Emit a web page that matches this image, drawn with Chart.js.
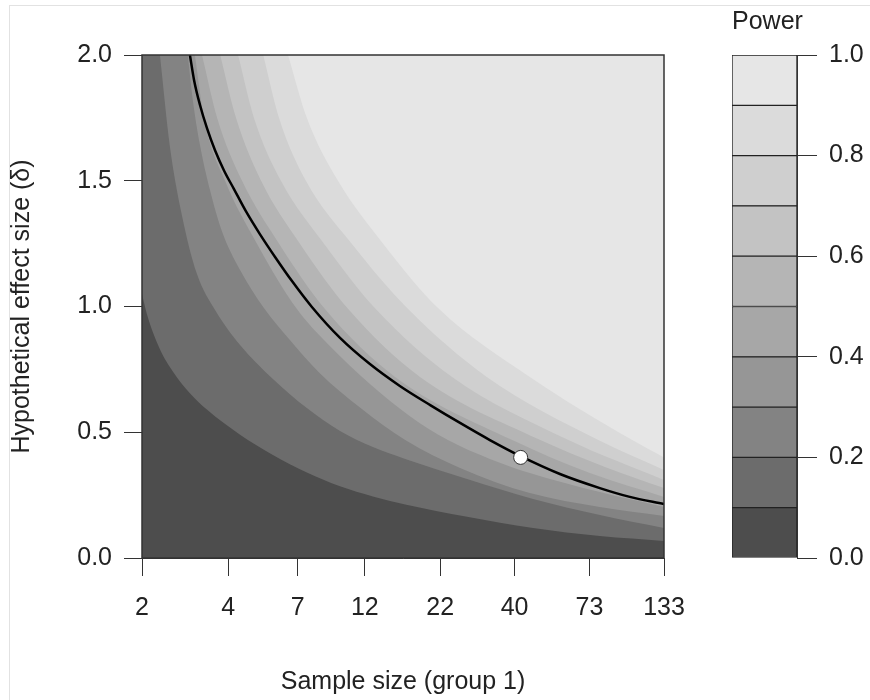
<!DOCTYPE html>
<html>
<head>
<meta charset="utf-8">
<script src="https://cdn.jsdelivr.net/npm/chart.js@4"></script>
<style>
  body { margin: 0; background: #fff; }
  #frame { position: absolute; left: 9px; top: 5px; width: 900px; height: 720px; border: 1px solid #e2e2e2; }
  #powerChart { position: absolute; left: 0; top: 0; }
  #legendChart { position: absolute; left: 700px; top: 0; }
</style>
</head>
<body>
<div id="frame"></div>
<canvas id="powerChart" width="700" height="700"></canvas>
<canvas id="legendChart" width="170" height="700"></canvas>
<script>
// axis ticks
const xTicks = [2, 4, 7, 12, 22, 40, 73, 133];
const yTicks = [0, 0.5, 1, 1.5, 2];
const powerLevels = [0, 0.1, 0.2, 0.3, 0.4, 0.5, 0.6, 0.7, 0.8, 0.9, 1.0];
const legendTicks = [0, 0.2, 0.4, 0.6, 0.8, 1.0];

// contour boundaries: [sample size, effect size]
const contour00 = [[2, 0], [133, 0]];
const contour01 = [[2, 1.05], [2.08, 0.97], [2.31, 0.83], [2.57, 0.74], [2.94, 0.655], [3.37, 0.59], [4.4, 0.49], [5.73, 0.41], [7.53, 0.34], [9.83, 0.285], [12.8, 0.245], [16.6, 0.213], [27.3, 0.164], [46.4, 0.119], [79.4, 0.087], [133, 0.068]];
const contour02 = [[2.31, 2.0], [2.5, 1.64], [2.76, 1.36], [3.11, 1.13], [3.6, 0.986], [4.4, 0.847], [5.73, 0.712], [7.53, 0.596], [9.83, 0.505], [12.8, 0.441], [16.6, 0.394], [27.3, 0.314], [46.4, 0.235], [79.4, 0.171], [133, 0.119]];
const contour03 = [[2.89, 2.0], [3.01, 1.82], [3.19, 1.64], [3.46, 1.46], [3.8, 1.3], [4.4, 1.145], [5.33, 0.994], [6.57, 0.867], [8.34, 0.736], [11.6, 0.596], [16.6, 0.469], [25.8, 0.358], [45.2, 0.258], [79.4, 0.203], [133, 0.167]];
const contour04 = [[3.06, 2.0], [3.29, 1.75], [3.9, 1.5], [5.04, 1.25], [6.95, 0.99], [9.06, 0.843], [12.5, 0.692], [17.2, 0.565], [23.4, 0.469], [32.8, 0.394], [45.2, 0.338], [79.4, 0.262], [133, 0.203]];
const contour05 = [[3.24, 2.0], [3.66, 1.75], [4.47, 1.5], [6.02, 1.25], [8.71, 0.99], [15.3, 0.72], [39.1, 0.47], [73.3, 0.338], [133, 0.243]];
const contour06 = [[3.75, 2.0], [4.26, 1.75], [5.21, 1.5], [7.12, 1.25], [10.5, 0.99], [18.7, 0.72], [49, 0.47], [82.7, 0.362], [133, 0.278]];
const contour07 = [[4.33, 2.0], [4.92, 1.75], [6.11, 1.5], [8.64, 1.25], [13.1, 0.99], [24.2, 0.72], [61.4, 0.47], [133, 0.31]];
const contour08 = [[5.3, 2.0], [6.02, 1.75], [7.47, 1.5], [10.8, 1.25], [17, 0.99], [32, 0.72], [78.1, 0.47], [133, 0.35]];
const contour09 = [[6.47, 2.0], [7.53, 1.75], [9.67, 1.5], [13.9, 1.25], [21.8, 0.99], [45.2, 0.72], [102.7, 0.47], [133, 0.4]];

// black power curve and the design point
const powerLine = [[2.94, 2.0], [3.04, 1.9], [3.19, 1.8], [3.37, 1.71], [3.6, 1.62], [3.87, 1.54], [4.19, 1.467], [4.61, 1.379], [5.16, 1.288], [5.83, 1.197], [6.68, 1.101], [7.84, 0.998], [9.83, 0.875], [12.5, 0.771], [15.9, 0.684], [20.3, 0.608], [25.8, 0.537], [32.8, 0.469], [41.8, 0.406], [57.6, 0.334], [79.4, 0.278], [101, 0.243], [133, 0.215]];
const designPoint = [[42, 0.40]];

const grays = ["#4d4d4d", "#6c6c6c", "#838383", "#969696", "#a7a7a7", "#b5b5b5", "#c3c3c3", "#cfcfcf", "#dbdbdb", "#e6e6e6"];
const font = { family: "'Liberation Sans', Arial, sans-serif", size: 25, weight: "normal" };
const textColor = "#222";

const contours = [contour00, contour01, contour02, contour03, contour04, contour05, contour06, contour07, contour08, contour09];
const toXY = pairs => pairs.map(p => ({ x: p[0], y: p[1] }));

const datasets = contours.map((c, i) => ({
    data: toXY(c),
    backgroundColor: grays[i],
    borderWidth: 0,
    pointRadius: 0,
    fill: "end",
    cubicInterpolationMode: "monotone",
    order: 30 - i
}));
datasets.push({
    data: toXY(powerLine),
    borderColor: "#000",
    borderWidth: 2.5,
    pointRadius: 0,
    fill: false,
    cubicInterpolationMode: "monotone",
    order: 2
});
datasets.push({
    data: toXY(designPoint),
    showLine: false,
    pointRadius: 7,
    pointBackgroundColor: "#fff",
    pointBorderColor: "#333",
    pointBorderWidth: 1,
    order: 1
});

// draws the frame around the plotting area
const boxPlugin = {
    id: "box",
    afterDatasetsDraw(chart) {
        const a = chart.chartArea;
        const ctx = chart.ctx;
        ctx.save();
        ctx.strokeStyle = "#333";
        ctx.lineWidth = 1.5;
        ctx.strokeRect(a.left, a.top, a.right - a.left, a.bottom - a.top);
        ctx.restore();
    }
};

new Chart(document.getElementById("powerChart"), {
    type: "line",
    data: { datasets },
    plugins: [boxPlugin],
    options: {
        responsive: false,
        devicePixelRatio: 1,
        animation: false,
        layout: { padding: { top: 55, right: 36, left: 0, bottom: 0 } },
        plugins: { legend: { display: false }, tooltip: { enabled: false } },
        scales: {
            x: {
                type: "logarithmic",
                min: 2,
                max: 133,
                afterBuildTicks: s => { s.ticks = xTicks.map(v => ({ value: v })); },
                afterFit: s => { s.height = 142; s.paddingRight = 0; s.paddingLeft = 0; },
                ticks: { font, color: textColor, padding: 17, maxRotation: 0, autoSkip: false, callback: v => String(v) },
                grid: { drawOnChartArea: false, tickLength: 18, color: "#333" },
                border: { color: "#333" },
                title: { display: true, text: "Sample size (group 1)", font, color: textColor, padding: { top: 0, bottom: 3 } }
            },
            y: {
                min: 0,
                max: 2,
                afterBuildTicks: s => { s.ticks = yTicks.map(v => ({ value: v })); },
                afterFit: s => { s.width = 142; },
                ticks: { font, color: textColor, padding: 12, callback: v => v.toFixed(1) },
                grid: { drawOnChartArea: false, tickLength: 18, color: "#333" },
                border: { color: "#333" },
                title: { display: true, text: "Hypothetical effect size (δ)", font, color: textColor, padding: { top: 7, bottom: 0 } }
            }
        }
    }
});

// colour key
const keyData = grays.map((g, i) => ({
    data: [[powerLevels[i], powerLevels[i + 1]]],
    backgroundColor: g,
    borderColor: "#222",
    borderWidth: 1,
    borderSkipped: false,
    barPercentage: 1,
    categoryPercentage: 1,
    grouped: false
}));

new Chart(document.getElementById("legendChart"), {
    type: "bar",
    data: { labels: ["Power"], datasets: keyData },
    options: {
        responsive: false,
        devicePixelRatio: 1,
        animation: false,
        layout: { padding: { top: 0, left: 32, right: 0, bottom: 142 } },
        plugins: {
            legend: { display: false },
            tooltip: { enabled: false },
            title: { display: true, text: "Power", align: "start", font, color: textColor, padding: { top: 7, bottom: 18 } }
        },
        scales: {
            x: { display: false },
            y: {
                position: "right",
                min: 0,
                max: 1,
                afterBuildTicks: s => { s.ticks = legendTicks.map(v => ({ value: v })); },
                afterFit: s => { s.width = 73; },
                ticks: { font, color: textColor, padding: 12, callback: v => v.toFixed(1) },
                grid: { drawOnChartArea: false, tickLength: 20, color: "#333" },
                border: { color: "#333" }
            }
        }
    }
});
</script>
</body>
</html>
